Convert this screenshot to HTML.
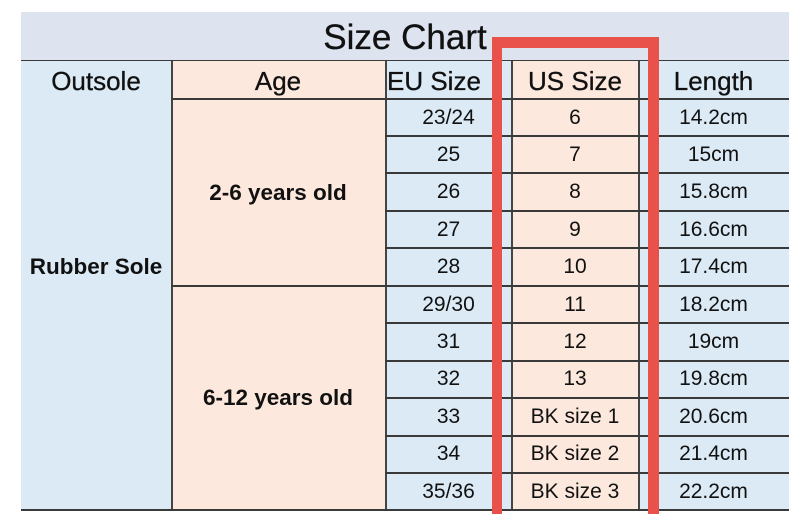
<!DOCTYPE html>
<html><head><meta charset="utf-8"><style>
body{margin:0;width:797px;height:523px;background:#fff;position:relative;overflow:hidden;font-family:"Liberation Sans",sans-serif;color:#111}
.a{position:absolute;box-sizing:border-box}
.t{position:absolute;display:flex;align-items:center;justify-content:center;font-size:21px;white-space:nowrap}
.h{font-size:26px;-webkit-text-stroke:0.3px #111}
.b{font-weight:bold;font-size:22.5px}
.hl{position:absolute;height:2px;background:#3a3a3a}
.vl{position:absolute;width:1.5px;background:#444}
.r{position:absolute;background:#e8524a}
</style></head><body>
<div class="a" style="left:21px;top:12px;width:768px;height:49px;background:#dde3ef"></div>
<div class="t" style="left:21px;top:13px;width:768px;height:49px;font-size:35px;-webkit-text-stroke:0.3px #111">Size Chart</div>
<div class="hl" style="left:21px;top:60px;width:768px"></div>
<div class="a" style="left:21px;top:61px;width:150px;height:450px;background:#dbeaf5"></div>
<div class="a" style="left:171px;top:61px;width:214px;height:450px;background:#fce8dc"></div>
<div class="a" style="left:385px;top:61px;width:127px;height:450px;background:#dbeaf5"></div>
<div class="a" style="left:512px;top:61px;width:126px;height:450px;background:#fce8dc"></div>
<div class="a" style="left:638px;top:61px;width:151px;height:450px;background:#dbeaf5"></div>
<div class="vl" style="left:171px;top:61px;height:450px"></div>
<div class="vl" style="left:385px;top:61px;height:450px"></div>
<div class="vl" style="left:511px;top:61px;height:450px"></div>
<div class="vl" style="left:638px;top:61px;height:450px"></div>
<div class="hl" style="left:171px;top:98px;width:618px"></div>
<div class="hl" style="left:171px;top:285px;width:618px"></div>
<div class="hl" style="left:21px;top:509px;width:768px"></div>
<div class="hl" style="left:385px;top:135px;width:404px"></div>
<div class="hl" style="left:385px;top:172px;width:404px"></div>
<div class="hl" style="left:385px;top:210px;width:404px"></div>
<div class="hl" style="left:385px;top:247px;width:404px"></div>
<div class="hl" style="left:385px;top:322px;width:404px"></div>
<div class="hl" style="left:385px;top:360px;width:404px"></div>
<div class="hl" style="left:385px;top:397px;width:404px"></div>
<div class="hl" style="left:385px;top:435px;width:404px"></div>
<div class="hl" style="left:385px;top:472px;width:404px"></div>
<div class="t h" style="left:21px;top:62px;width:150px;height:38px">Outsole</div>
<div class="t h" style="left:171px;top:62px;width:214px;height:38px">Age</div>
<div class="t h" style="left:385px;top:62px;width:127px;height:38px;justify-content:flex-start;padding-left:2px">EU Size</div>
<div class="t h" style="left:512px;top:62px;width:126px;height:38px">US Size</div>
<div class="t h" style="left:638px;top:62px;width:151px;height:38px">Length</div>
<div class="t b" style="left:21px;top:248px;width:150px;height:38px">Rubber Sole</div>
<div class="t b" style="left:171px;top:99px;width:214px;height:187px">2-6 years old</div>
<div class="t b" style="left:171px;top:286px;width:214px;height:224px">6-12 years old</div>
<div class="a" style="left:385px;top:99px;width:127px">
<div class="t" style="position:relative;height:37.4px">23/24</div><div class="t" style="position:relative;height:37.4px">25</div><div class="t" style="position:relative;height:37.4px">26</div><div class="t" style="position:relative;height:37.4px">27</div><div class="t" style="position:relative;height:37.4px">28</div><div class="t" style="position:relative;height:37.4px">29/30</div><div class="t" style="position:relative;height:37.4px">31</div><div class="t" style="position:relative;height:37.4px">32</div><div class="t" style="position:relative;height:37.4px">33</div><div class="t" style="position:relative;height:37.4px">34</div><div class="t" style="position:relative;height:37.4px">35/36</div></div>
<div class="a" style="left:512px;top:99px;width:126px">
<div class="t" style="position:relative;height:37.4px">6</div><div class="t" style="position:relative;height:37.4px">7</div><div class="t" style="position:relative;height:37.4px">8</div><div class="t" style="position:relative;height:37.4px">9</div><div class="t" style="position:relative;height:37.4px">10</div><div class="t" style="position:relative;height:37.4px">11</div><div class="t" style="position:relative;height:37.4px">12</div><div class="t" style="position:relative;height:37.4px">13</div><div class="t" style="position:relative;height:37.4px">BK size 1</div><div class="t" style="position:relative;height:37.4px">BK size 2</div><div class="t" style="position:relative;height:37.4px">BK size 3</div></div>
<div class="a" style="left:638px;top:99px;width:151px">
<div class="t" style="position:relative;height:37.4px">14.2cm</div><div class="t" style="position:relative;height:37.4px">15cm</div><div class="t" style="position:relative;height:37.4px">15.8cm</div><div class="t" style="position:relative;height:37.4px">16.6cm</div><div class="t" style="position:relative;height:37.4px">17.4cm</div><div class="t" style="position:relative;height:37.4px">18.2cm</div><div class="t" style="position:relative;height:37.4px">19cm</div><div class="t" style="position:relative;height:37.4px">19.8cm</div><div class="t" style="position:relative;height:37.4px">20.6cm</div><div class="t" style="position:relative;height:37.4px">21.4cm</div><div class="t" style="position:relative;height:37.4px">22.2cm</div></div>
<div class="r" style="left:492px;top:37px;width:167px;height:11px"></div>
<div class="r" style="left:492px;top:37px;width:10px;height:486px"></div>
<div class="r" style="left:648px;top:37px;width:11px;height:486px"></div>
<div class="a" style="left:492px;top:512px;width:167px;height:11px;background:#fff"></div>
<div class="r" style="left:492px;top:512px;width:10px;height:2px"></div>
<div class="r" style="left:648px;top:512px;width:11px;height:2px"></div>
</body></html>
